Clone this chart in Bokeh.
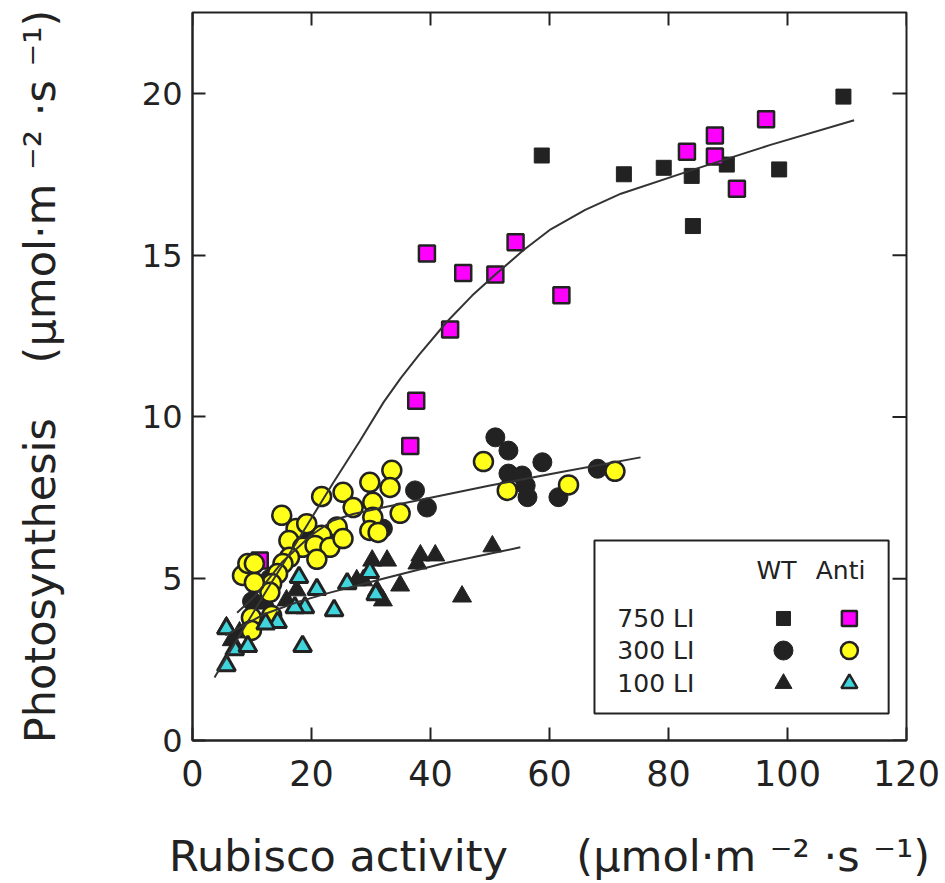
from bokeh.plotting import figure
from bokeh.models import Range1d, FixedTicker
from bokeh.core.properties import value
from bokeh.embed import file_html
from bokeh.resources import INLINE

FONT = "DejaVu Sans"
NB = "\u00a0"

# ---------------- data ----------------
wt750_x = [58.7, 72.5, 79.2, 83.9, 84.1, 89.8, 98.6, 109.4]
wt750_y = [18.08, 17.5, 17.7, 17.45, 15.9, 17.8, 17.65, 19.9]

anti750_x = [11.3, 36.6, 37.6, 39.4, 43.3, 45.5, 50.9, 54.3, 62.0, 83.1, 87.8, 87.8, 91.5, 96.4]
anti750_y = [5.56, 9.1, 10.5, 15.05, 12.7, 14.45, 14.4, 15.4, 13.76, 18.2, 18.7, 18.05, 17.05, 19.2]

wt300_x = [37.4, 39.4, 50.9, 53.1, 53.1, 55.4, 56.0, 56.3, 58.8, 61.5, 68.1,
           32.0, 24.5, 19.5, 13.0, 10.0]
wt300_y = [7.73, 7.2, 9.37, 8.96, 8.25, 8.19, 7.88, 7.52, 8.6, 7.52, 8.4,
           6.55, 6.5, 6.2, 5.0, 4.3]

anti300_x = [48.9, 52.9, 63.2, 71.0, 33.5, 29.8, 33.2, 25.3, 21.7, 27.0, 30.3, 34.9, 30.3,
             15.0, 17.4, 19.2, 24.3, 21.7, 16.2, 18.5, 20.6, 23.1, 25.3, 29.8, 31.2,
             20.9, 16.3, 15.2, 14.3, 13.3, 13.0, 8.4, 9.3, 10.4, 10.4, 13.3, 9.9, 9.9]
anti300_y = [8.62, 7.73, 7.9, 8.32, 8.35, 7.98, 7.82, 7.67, 7.54, 7.2, 7.36, 7.02, 6.9,
             6.96, 6.55, 6.7, 6.6, 6.34, 6.18, 5.97, 6.03, 5.97, 6.24, 6.49, 6.43,
             5.6, 5.66, 5.47, 5.16, 4.85, 4.58, 5.1, 5.47, 5.47, 4.88, 3.86, 3.8, 3.4]

wt100_x = [30.2, 32.7, 38.3, 40.8, 34.9, 45.3, 32.0, 50.4, 37.8, 28.7, 17.5, 15.8,
           5.7, 7.9, 6.6, 9.3, 12.5, 27.6, 31.0]
wt100_y = [5.56, 5.56, 5.72, 5.72, 4.79, 4.45, 4.33, 6.0, 5.47, 4.95, 4.64, 4.33,
           3.5, 3.34, 3.1, 3.55, 4.23, 4.95, 4.64]

anti100_x = [29.8, 17.9, 20.9, 26.0, 30.8, 18.9, 17.2, 23.8, 14.3, 12.3, 18.5, 7.1, 9.3, 5.7, 5.7]
anti100_y = [5.2, 5.04, 4.67, 4.85, 4.51, 4.11, 4.11, 4.02, 3.65, 3.61, 2.91, 2.81, 2.91, 3.46, 2.32]

# fitted curves
fit750_x = [3.7, 8.4, 12.5, 16.9, 23.6, 28.1, 32.1, 35.0, 38.0, 42.8, 47.0, 50.9, 55.6, 60.2,
            66.0, 72.0, 83.8, 97.0, 111.2]
fit750_y = [1.95, 3.4, 4.65, 5.95, 7.95, 9.25, 10.45, 11.2, 11.9, 12.95, 13.75, 14.4, 15.15, 15.8,
            16.4, 16.9, 17.62, 18.4, 19.17]

fit300_x = [7.5, 10.4, 15.0, 20.0, 23.6, 27.0, 32.0, 40.0, 50.0, 62.0, 75.3]
fit300_y = [3.95, 4.45, 5.5, 6.35, 6.8, 7.0, 7.2, 7.5, 7.88, 8.3, 8.75]

fit100_x = [5.5, 12.0, 18.0, 23.1, 32.0, 42.1, 55.1]
fit100_y = [3.25, 3.9, 4.3, 4.57, 5.0, 5.47, 5.97]

x_ticks = [0, 20, 40, 60, 80, 100, 120]
y_ticks = [0, 5, 10, 15, 20]

legend_rows = ["750 LI", "300 LI", "100 LI"]
legend_cols = ["WT", "Anti"]

# ---------------- figure ----------------
p = figure(width=945, height=883, x_range=Range1d(0, 120), y_range=Range1d(0, 22.5),
           output_backend="svg", toolbar_location=None,
           min_border_left=192, min_border_right=39, min_border_top=12, min_border_bottom=143)
p.grid.visible = False
p.outline_line_color = "#222222"
p.outline_line_width = 2
p.background_fill_color = "white"
p.border_fill_color = "white"

xb = p.xaxis[0]
yl = p.yaxis[0]
for ax, tk in [(xb, x_ticks), (yl, y_ticks)]:
    ax.ticker = FixedTicker(ticks=tk)
    ax.axis_line_color = "#222222"
    ax.axis_line_width = 2
    ax.major_tick_in = 13
    ax.major_tick_out = 0
    ax.minor_tick_in = 0
    ax.minor_tick_out = 0
    ax.major_tick_line_color = "#222222"
    ax.major_tick_line_width = 2
    ax.major_label_text_font = FONT
    ax.major_label_text_color = "#222222"

xb.major_label_text_font_size = "35px"
xb.major_label_standoff = 19
yl.major_label_text_font_size = "32px"
yl.major_label_standoff = 10

unit = "(\u03bcmol\u00b7m" + NB + "\u207b\u00b2" + NB + "\u00b7s" + NB + "\u207b\u00b9)"
xb.axis_label = "Rubisco activity" + NB * 5 + unit
yl.axis_label = "Photosynthesis" + NB * 4 + unit
for ax in [xb, yl]:
    ax.axis_label_text_font = FONT
    ax.axis_label_text_font_size = "43px"
    ax.axis_label_text_font_style = "normal"
    ax.axis_label_text_color = "#222222"
xb.axis_label_standoff = 42
yl.axis_label_standoff = 74

# mirrored inward ticks on top and right (frame-fraction lengths)
p.extra_x_ranges = {"fx": Range1d(0, 1)}
p.extra_y_ranges = {"fy": Range1d(0, 1)}
top_len = 13 / 728
right_len = 14 / 714
p.segment(x0=x_ticks, x1=x_ticks, y0=[1] * len(x_ticks), y1=[1 - top_len] * len(x_ticks),
          line_color="#222222", line_width=2, y_range_name="fy")
p.segment(x0=[1] * len(y_ticks), x1=[1 - right_len] * len(y_ticks), y0=y_ticks, y1=y_ticks,
          line_color="#222222", line_width=2, x_range_name="fx")

BLACK = "#222222"
# WT series
p.scatter(wt750_x, wt750_y, marker="square", size=15, fill_color=BLACK, line_color=BLACK)
p.scatter(wt300_x, wt300_y, marker="circle", size=19, fill_color=BLACK, line_color=BLACK)
p.scatter(wt100_x, wt100_y, marker="triangle", size=19, fill_color=BLACK, line_color=BLACK)
# Anti series
p.scatter(anti750_x, anti750_y, marker="square", size=16, fill_color="#ff00ff", line_color=BLACK, line_width=2.5)
p.scatter(anti300_x, anti300_y, marker="circle", size=19, fill_color="#ffff1a", line_color=BLACK, line_width=2.5)
p.scatter(anti100_x, anti100_y, marker="triangle", size=18, fill_color="#40d4dc", line_color=BLACK, line_width=3)

# fitted lines
for fx, fy in [(fit750_x, fit750_y), (fit300_x, fit300_y), (fit100_x, fit100_y)]:
    p.line(fx, fy, line_color="#333333", line_width=2)

# ---------------- legend (frame-fraction coordinates) ----------------
p.quad(left=[0.563], right=[0.975], bottom=[0.037], top=[0.2747],
       fill_color="white", line_color=BLACK, line_width=2,
       x_range_name="fx", y_range_name="fy")
col_x = [0.818, 0.9076]
p.text(x=col_x, y=[0.2335, 0.2335], text=legend_cols, text_font=value(FONT),
       text_font_size="25px", text_align="center", text_baseline="middle",
       text_color=BLACK, x_range_name="fx", y_range_name="fy")
row_y = [0.1676, 0.1236, 0.0783]
p.text(x=[0.595] * 3, y=row_y, text=legend_rows, text_font=value(FONT),
       text_font_size="25px", text_align="left", text_baseline="middle",
       text_color=BLACK, x_range_name="fx", y_range_name="fy")
mk_x = [0.8277, 0.920]
p.scatter([mk_x[0]], [row_y[0]], marker="square", size=14, fill_color=BLACK, line_color=BLACK,
          x_range_name="fx", y_range_name="fy")
p.scatter([mk_x[1]], [row_y[0]], marker="square", size=15, fill_color="#ff00ff", line_color=BLACK,
          line_width=2.5, x_range_name="fx", y_range_name="fy")
p.scatter([mk_x[0]], [row_y[1]], marker="circle", size=19, fill_color=BLACK, line_color=BLACK,
          x_range_name="fx", y_range_name="fy")
p.scatter([mk_x[1]], [row_y[1]], marker="circle", size=17, fill_color="#ffff1a", line_color=BLACK,
          line_width=2.5, x_range_name="fx", y_range_name="fy")
p.scatter([mk_x[0]], [row_y[2]], marker="triangle", size=17, fill_color=BLACK, line_color=BLACK,
          x_range_name="fx", y_range_name="fy")
p.scatter([mk_x[1]], [row_y[2]], marker="triangle", size=16, fill_color="#40d4dc", line_color=BLACK,
          line_width=2.5, x_range_name="fx", y_range_name="fy")

open("out.html", "w").write(file_html(p, INLINE))
